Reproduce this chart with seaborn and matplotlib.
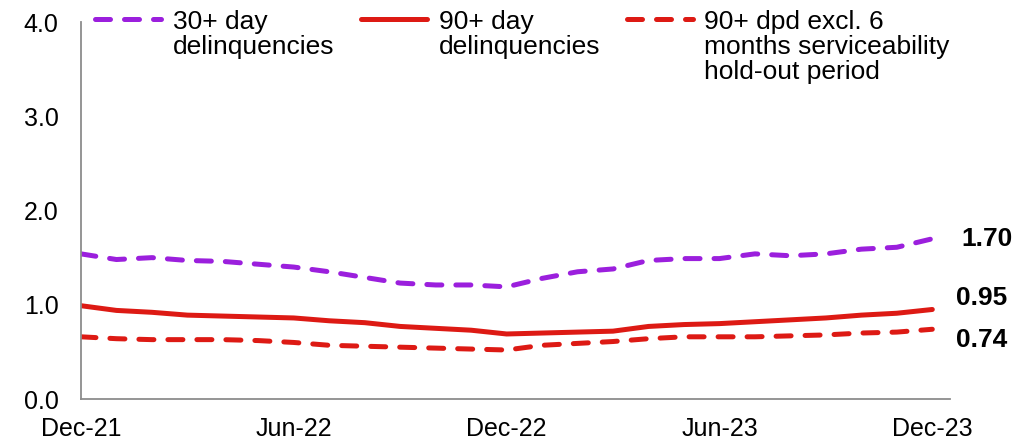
import matplotlib
matplotlib.use("Agg")
import matplotlib.pyplot as plt
import seaborn as sns
import pandas as pd

months = pd.date_range("2021-12-01", "2023-12-01", freq="MS").strftime("%b-%y").tolist()

dq30 = [1.54, 1.48, 1.50, 1.47, 1.46, 1.43, 1.40, 1.35, 1.29, 1.23, 1.21, 1.21, 1.19,
        1.28, 1.35, 1.38, 1.47, 1.49, 1.49, 1.54, 1.52, 1.54, 1.59, 1.61, 1.70]
dq90 = [0.99, 0.94, 0.92, 0.89, 0.88, 0.87, 0.86, 0.83, 0.81, 0.77, 0.75, 0.73, 0.69,
        0.70, 0.71, 0.72, 0.77, 0.79, 0.80, 0.82, 0.84, 0.86, 0.89, 0.91, 0.95]
dq90_excl = [0.66, 0.64, 0.63, 0.63, 0.63, 0.62, 0.60, 0.57, 0.56, 0.55, 0.54, 0.53, 0.52,
             0.57, 0.59, 0.61, 0.64, 0.66, 0.66, 0.66, 0.67, 0.68, 0.70, 0.71, 0.74]

labels = ["30+ day\ndelinquencies", "90+ day\ndelinquencies",
          "90+ dpd excl. 6\nmonths serviceability\nhold-out period"]
tick_months = ["Dec-21", "Jun-22", "Dec-22", "Jun-23", "Dec-23"]

purple = "#9B1FDD"
red = "#DD1A14"
fs = 18
fs_leg = 19

sns.set_style("white")
plt.rcParams["font.family"] = ["Liberation Sans", "DejaVu Sans"]
plt.rcParams["text.color"] = "black"
plt.rcParams["xtick.color"] = "black"
plt.rcParams["ytick.color"] = "black"

fig = plt.figure(figsize=(10.34, 4.43), dpi=100)
ax = fig.add_axes([0.0783, 0.0993, 0.8405, 0.851])

x = list(range(len(months)))
styles = [(dq30, purple, (3, 2.8)), (dq90, red, None), (dq90_excl, red, (3, 2.8))]
for (vals, col, dash), lab in zip(styles, labels):
    sns.lineplot(x=x, y=vals, ax=ax, color=col, linewidth=3.6, label=lab,
                 dashes=False)
    line = ax.get_lines()[-1]
    if dash:
        line.set_dashes(dash)
    line.set_dash_capstyle("round")
    line.set_solid_capstyle("round")

ax.set_xlim(0, 24.5)
ax.set_ylim(0, 4)
ax.set_yticks([0, 1, 2, 3, 4])
ax.set_yticklabels([f"{v:.1f}" for v in [0, 1, 2, 3, 4]])
ax.set_xticks([months.index(m) for m in tick_months])
ax.set_xticklabels(tick_months)
ax.tick_params(axis="y", length=0, pad=16, labelsize=fs, labelcolor="black")
ax.tick_params(axis="x", length=0, pad=13, labelsize=fs, labelcolor="black")
for side in ["top", "right"]:
    ax.spines[side].set_visible(False)
for side in ["left", "bottom"]:
    ax.spines[side].set_color("#8c8c8c")
    ax.spines[side].set_linewidth(1.3)

last = len(months) - 1
for vals, dy, dx in [(dq30, 0, 21), (dq90, 8, 17), (dq90_excl, -8, 17)]:
    ax.annotate(f"{vals[-1]:.2f}", (last, vals[-1]), xytext=(dx, dy),
                textcoords="offset points", ha="left", va="center",
                fontsize=fs_leg, fontweight="bold", color="black",
                annotation_clip=False)

leg = ax.legend(loc="upper left", bbox_to_anchor=(0.092, 0.977),
                bbox_transform=fig.transFigure, ncol=3, frameon=False,
                fontsize=fs_leg, handlelength=2.5, handletextpad=0.45,
                columnspacing=1.0, borderpad=0, borderaxespad=0,
                labelcolor="black")
for t in leg.get_texts():
    t.set_linespacing(1.05)
leg._legend_handle_box.align = "top"
for col in leg._legend_handle_box.get_children():
    col.align = "left"
    for row in col.get_children():
        row.align = "top"

fig.savefig("out.png", dpi=100)
